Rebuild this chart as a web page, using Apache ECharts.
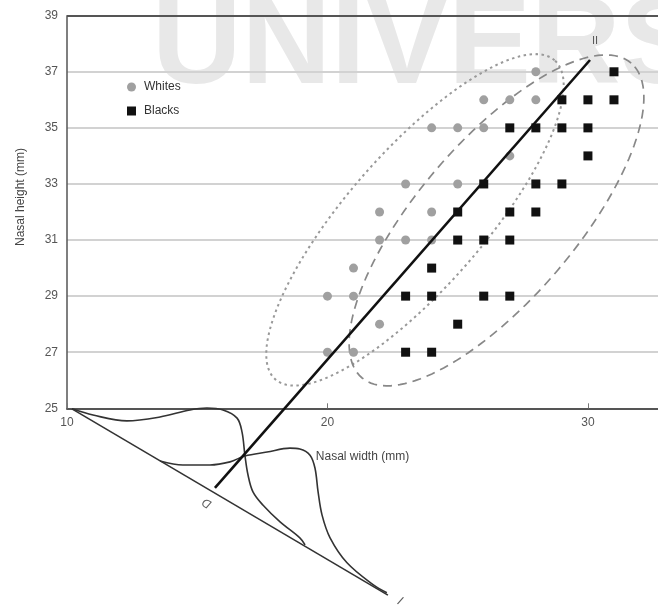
<!DOCTYPE html>
<html><head><meta charset="utf-8">
<script src="https://cdn.jsdelivr.net/npm/echarts@6/dist/echarts.min.js"></script>
<style>html,body{margin:0;padding:0;background:#fff}#c{width:658px;height:608px}</style>
</head><body><div id="c"></div><script>
// ---- data (nasal width, nasal height in mm) ----
const whites = [[20,27],[21,27],[22,28],[20,29],[21,29],[21,30],[22,31],[23,31],[24,31],[22,32],[24,32],[23,33],[25,33],[27,34],[24,35],[25,35],[26,35],[26,36],[27,36],[28,36],[28,37]];
const blacks = [[23,27],[24,27],[25,28],[23,29],[24,29],[26,29],[27,29],[24,30],[25,31],[26,31],[27,31],[25,32],[27,32],[28,32],[26,33],[28,33],[29,33],[30,34],[27,35],[28,35],[29,35],[30,35],[29,36],[30,36],[31,36],[31,37]];
// discriminant axis (II) and projection axis (I)
const axisII = [[15.68,22.16],[30.08,37.42]];
const axisI = [[10.19,24.98],[22.32,18.34]];
// projected distributions drawn on axis I
const whitesCurve = [[10.19,24.98],[11.00,24.76],[12.30,24.55],[13.57,24.69],[14.72,24.94],[15.37,25.01],[15.99,24.94],[16.53,24.65],[16.72,24.15],[16.83,23.33],[16.95,22.62],[17.14,22.02],[17.52,21.55],[18.18,20.95],[18.94,20.38],[19.14,20.13]];
const blacksCurve = [[13.57,23.12],[14.45,22.98],[15.49,22.98],[16.26,23.09],[16.83,23.30],[17.68,23.44],[18.56,23.58],[18.94,23.55],[19.33,23.33],[19.52,22.87],[19.64,22.02],[19.79,21.20],[20.10,20.38],[20.75,19.49],[21.75,18.71],[22.28,18.42]];
// ellipses: centre x, centre y, major semi-axis (dx,dy), minor semi-axis (dx,dy)
const whitesEllipse = [23.36,31.72,5.36,5.69,-1.97,1.60];
const blacksEllipse = [26.49,31.70,5.17,5.61,-2.30,1.83];
const annotations = [['II',30.27,38.10],['D',15.37,21.62],['I',22.78,18.12]];
const xTickLabels = [10,20,30];
const yTickLabels = [25,27,29,31,33,35,37,39];

const FONT = 'Liberation Sans, Arial, sans-serif';
const chart = echarts.init(document.getElementById('c'), null, {renderer:'canvas'});

function ellipseRenderer(stroke, dash, w){
  return function(params, api){
    const v = [0,1,2,3,4,5].map(i=>api.value(i));
    const pts = [];
    for (let k=0;k<=144;k++){
      const t = k/144*2*Math.PI;
      pts.push(api.coord([v[0]+v[2]*Math.cos(t)+v[4]*Math.sin(t), v[1]+v[3]*Math.cos(t)+v[5]*Math.sin(t)]));
    }
    return {type:'polygon', shape:{points:pts}, style:{fill:'none', stroke:stroke, lineWidth:w, lineDash:dash}};
  };
}
const rot = {II:0, D:150, I:-30};
const sizes = {II:11, D:12, I:13};

chart.setOption({
  animation:false,
  textStyle:{fontFamily:FONT},
  grid:{left:67, top:15.7, right:0, bottom:199.7, containLabel:false},
  graphic:[
    {type:'text', left:152, top:-13, z:-10, silent:true,
     style:{text:'UNIVERS', font:'bold 124px '+FONT, fill:'#e8e8e8'}},
    {type:'text', x:21, y:197, rotation:Math.PI/2, silent:true,
     style:{text:'Nasal height (mm)', font:'12px '+FONT, fill:'#444', align:'center', verticalAlign:'middle'}}
  ],
  legend:{
    orient:'vertical', left:122, top:76, itemWidth:9, itemHeight:9, itemGap:12,
    textStyle:{fontSize:12, color:'#333', fontFamily:FONT, padding:[0,0,0,3]},
    data:[{name:'Whites', icon:'circle'},{name:'Blacks', icon:'rect'}]
  },
  xAxis:{
    type:'value', min:10, max:32.69, interval:10,
    name:'Nasal width (mm)', nameLocation:'middle', nameGap:42,
    nameTextStyle:{fontSize:12, color:'#444'},
    axisLine:{lineStyle:{color:'#555', width:2}},
    axisTick:{inside:true, length:5, lineStyle:{color:'#777'}},
    axisLabel:{color:'#555', fontSize:12, margin:8, showMaxLabel:false,
      formatter:v=>xTickLabels.includes(v)?String(v):''},
    splitLine:{show:false}
  },
  yAxis:{
    type:'value', min:25, max:39, interval:2,
    axisLine:{show:true, lineStyle:{color:'#555', width:1.5}},
    axisTick:{show:false},
    axisLabel:{color:'#555', fontSize:12, margin:9,
      formatter:v=>yTickLabels.includes(v)?String(v):''},
    splitLine:{lineStyle:{color:['#d2d2d2','#d2d2d2','#d2d2d2','#d2d2d2','#d2d2d2','#d2d2d2','#d2d2d2','#555'], width:1.8}}
  },
  series:[
    {type:'custom', name:'whitesEllipse', data:[whitesEllipse], encode:{x:0,y:1}, clip:false, silent:true, z:1,
     renderItem:ellipseRenderer('#999',[2.5,3.5],2)},
    {type:'custom', name:'blacksEllipse', data:[blacksEllipse], encode:{x:0,y:1}, clip:false, silent:true, z:1,
     renderItem:ellipseRenderer('#888',[9,6],1.7)},
    {type:'line', name:'axisI', data:axisI, clip:false, showSymbol:false, silent:true, z:2,
     lineStyle:{color:'#333', width:1.6}},
    {type:'line', name:'whitesCurve', data:whitesCurve, clip:false, showSymbol:false, smooth:0.35, silent:true, z:2,
     lineStyle:{color:'#333', width:1.6}},
    {type:'line', name:'blacksCurve', data:blacksCurve, clip:false, showSymbol:false, smooth:0.35, silent:true, z:2,
     lineStyle:{color:'#333', width:1.6}},
    {type:'scatter', name:'Whites', data:whites, symbol:'circle', symbolSize:9, z:3,
     itemStyle:{color:'#a0a0a0', opacity:1}},
    {type:'scatter', name:'Blacks', data:blacks, symbol:'rect', symbolSize:9, z:3,
     itemStyle:{color:'#111', opacity:1}},
    {type:'line', name:'axisII', data:axisII, clip:false, showSymbol:false, silent:true, z:4,
     lineStyle:{color:'#111', width:2.6}},
    {type:'scatter', name:'labels', clip:false, symbolSize:0.1, silent:true, z:5,
     data:annotations.map(a=>({value:[a[1],a[2]], name:a[0],
       label:{show:true, position:'inside', formatter:a[0], rotate:rot[a[0]], fontSize:sizes[a[0]], color:'#333', fontStyle:a[0]==='II'?'normal':'italic'}}))}
  ]
});
</script></body></html>
